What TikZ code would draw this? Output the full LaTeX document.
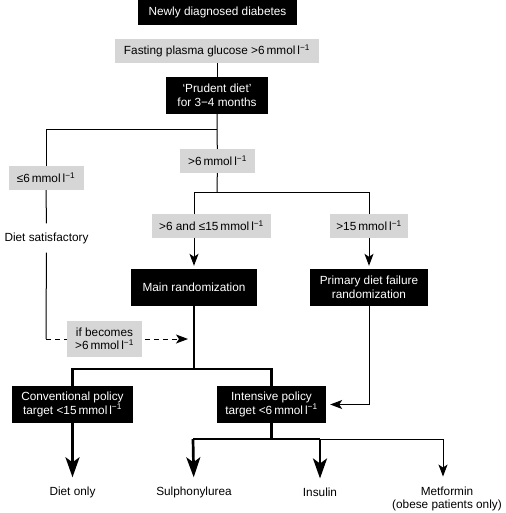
\documentclass[tikz,border=0pt]{standalone}
\usepackage{fontspec}
\setmainfont{Liberation Sans}
\usetikzlibrary{arrows.meta,backgrounds}
\newcommand{\mml}{mmol\,l\textsuperscript{−1}}
\begin{document}
\begin{tikzpicture}[x=1pt,y=-1pt,
  font=\fontsize{11.8}{13.5}\selectfont,
  blk/.style={fill=black,text=white,inner sep=0pt,align=center},
  gry/.style={fill=black!16,inner sep=0pt,align=center},
  txt/.style={inner sep=0pt,align=center},
  ln/.style={line width=1pt,draw=black},
  thk/.style={line width=2.7pt,draw=black},
  arr/.style={-{Stealth[length=12pt,width=9pt,inset=3pt]}},
  tarr/.style={-{Stealth[length=20pt,width=14pt,inset=5pt]}},
  dsh/.style={dash pattern=on 5pt off 4pt}
]
\useasboundingbox (0,0) rectangle (505,513);
% boxes
\node[blk,minimum width=159pt,minimum height=25pt] (newly) at (217.5,12.5) {Newly diagnosed diabetes};
\node[gry,minimum width=204pt,minimum height=24pt] (fpg) at (217,51) {Fasting plasma glucose >6\,\mml};
\node[blk,minimum width=102pt,minimum height=37pt] (prudent) at (217,95.5) {‘Prudent diet’\\for 3−4 months};
\node[gry,minimum width=75pt,minimum height=24pt] (le6) at (46,178) {≤6\,\mml};
\node[gry,minimum width=75pt,minimum height=24pt] (gt6) at (217.5,161) {>6\,\mml};
\node[txt,minimum height=29pt] (dietsat) at (46.5,238) {Diet satisfactory};
\node[gry,minimum width=119pt,minimum height=24pt] (mid) at (211.5,226) {>6 and ≤15\,\mml};
\node[gry,minimum width=78pt,minimum height=24pt] (gt15) at (369,226) {>15\,\mml};
\node[blk,minimum width=126pt,minimum height=37pt] (main) at (194,287.5) {Main randomization};
\node[blk,minimum width=118pt,minimum height=37pt] (pdf) at (369,287.5) {Primary diet failure\\randomization};
\node[gry,minimum width=75pt,minimum height=36pt] (ifb) at (104.5,339) {if becomes\\>6\,\mml};
\node[blk,minimum width=121pt,minimum height=37pt] (conv) at (72.5,404.5) {Conventional policy\\target <15\,\mml};
\node[blk,minimum width=109pt,minimum height=37pt] (inten) at (271.5,404.5) {Intensive policy\\target <6\,\mml};
\node[txt] (dietonly) at (72.5,492) {Diet only};
\node[txt] (sulph) at (194,492) {Sulphonylurea};
\node[txt] (insulin) at (320,492) {Insulin};
\node[txt] (metformin) at (447,499) {Metformin\\(obese patients only)};
% junctions
\coordinate (j1) at (217,130);
\coordinate (j1l) at (46,130);
\coordinate (dc) at (46,339);
\coordinate (dtip) at (188,339);
\coordinate (j2) at (217,192);
\coordinate (j2l) at (194,192);
\coordinate (j2r) at (369,192);
\coordinate (j3) at (194,369);
\coordinate (j3l) at (72.5,369);
\coordinate (j3r) at (271.5,369);
\coordinate (j4) at (271.5,439);
\coordinate (j4a) at (193,439);
\coordinate (j4b) at (320,439);
\coordinate (j4c) at (443,439);
\begin{scope}[on background layer]
\draw[ln] (fpg) -- (prudent);
\draw[ln] (prudent) -- (j1) -- (gt6);
\draw[ln] (j1) -- (j1l) -- (le6);
\draw[ln] (le6) -- (dietsat);
\draw[ln] (dietsat) -- (dc);
\draw[ln,dsh,arr] (dc) -- (dtip);
\draw[ln] (gt6) -- (j2);
\draw[ln] (j2l) -- (j2r);
\draw[ln,arr,shorten >=3pt] (j2l) -- (main);
\draw[ln,arr,shorten >=3pt] (j2r) -- (pdf);
\draw[thk] (main) -- (j3);
\draw[thk] (conv) -- (j3l) -- (j3r) -- (inten);
\draw[ln,arr,shorten >=4pt] (pdf) |- (inten);
\draw[thk] (inten) -- (j4);
\draw[thk] (j4a) -- (j4b);
\draw[ln] (j4b) -- (j4c);
\draw[thk,tarr,shorten >=9pt] (conv) -- (dietonly);
\draw[thk,tarr,shorten >=9pt] (j4a) -- (sulph);
\draw[thk,tarr,shorten >=9pt] (j4b) -- (insulin);
\draw[ln,arr,shorten >=10pt] (j4c) -- (j4c |- metformin.north);
\end{scope}
\end{tikzpicture}
\end{document}
